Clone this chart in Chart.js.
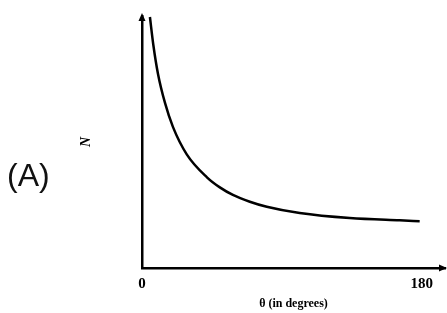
<!DOCTYPE html>
<html>
<head>
<meta charset="utf-8">
<script src="https://cdn.jsdelivr.net/npm/chart.js@4.4.0/dist/chart.umd.min.js"></script>
<style>
  html, body { margin: 0; padding: 0; background: #fff; }
  #wrap { position: relative; width: 447px; height: 313px; }
  #panel { position: absolute; left: 7px; top: 157px; font: 32px "Liberation Sans", Arial, sans-serif; color: #111; }
</style>
</head>
<body>
<div id="wrap">
  <canvas id="chart" width="447" height="313"></canvas>
  <div id="panel">(A)</div>
</div>
<script>
// curva leída a ojo de la figura (ángulo en grados, N en unidades arbitrarias)
const angulos = [5.1, 7.3, 10.3, 14.8, 19.9, 28.9, 41.8, 50.1, 58.5, 69.4, 80.3, 101.5, 133.7, 165.8, 178.7];
const valoresN = [99.6, 88.5, 77.0, 65.5, 56.0, 45.0, 36.0, 32.0, 29.0, 26.3, 24.3, 21.8, 19.8, 18.9, 18.6];
const ticksX = [0, 180];

const puntos = angulos.map((a, i) => ({ x: a, y: valoresN[i] }));

// flechas en los extremos de los ejes
const flechas = {
  id: 'flechas',
  afterDraw(chart) {
    const { ctx, chartArea: a } = chart;
    ctx.save();
    ctx.fillStyle = '#000';
    ctx.beginPath();
    ctx.moveTo(a.left, a.top - 3);
    ctx.lineTo(a.left - 3.5, a.top + 5);
    ctx.lineTo(a.left + 3.5, a.top + 5);
    ctx.closePath();
    ctx.fill();
    ctx.beginPath();
    ctx.moveTo(a.right + 2, a.bottom);
    ctx.lineTo(a.right - 6, a.bottom - 3.5);
    ctx.lineTo(a.right - 6, a.bottom + 3.5);
    ctx.closePath();
    ctx.fill();
    ctx.restore();
  }
};

new Chart(document.getElementById('chart'), {
  type: 'line',
  data: {
    datasets: [{
      data: puntos,
      borderColor: '#000',
      borderWidth: 2.5,
      pointRadius: 0,
      cubicInterpolationMode: 'monotone',
      fill: false,
      clip: false
    }]
  },
  options: {
    responsive: false,
    animation: false,
    layout: { padding: { left: 0, right: 2, top: 16, bottom: 0 } },
    plugins: { legend: { display: false }, tooltip: { enabled: false } },
    scales: {
      x: {
        type: 'linear',
        min: 0,
        max: 195,
        afterBuildTicks: s => { s.ticks = ticksX.map(v => ({ value: v })); },
        grid: { display: false, drawTicks: false },
        border: { display: true, color: '#000', width: 2.5 },
        ticks: {
          color: '#000',
          padding: 9,
          maxRotation: 0,
          autoSkip: false,
          font: { family: '"Liberation Serif", "DejaVu Serif", serif', size: 15, weight: 'bold', lineHeight: 1 }
        },
        title: {
          display: true,
          text: 'θ (in degrees)',
          color: '#000',
          padding: { top: -3, bottom: 3 },
          font: { family: '"Liberation Serif", "DejaVu Serif", serif', size: 12, weight: 'bold', lineHeight: 1 }
        }
      },
      y: {
        min: 0,
        max: 100,
        grid: { display: false, drawTicks: false },
        border: { display: true, color: '#000', width: 2.5 },
        ticks: { display: false },
        title: {
          display: true,
          text: 'N',
          color: '#000',
          padding: { top: 79, bottom: 49 },
          font: { family: '"Liberation Serif", "DejaVu Serif", serif', size: 14, weight: 'bold', style: 'italic', lineHeight: 1 }
        }
      }
    }
  },
  plugins: [flechas]
});
</script>
</body>
</html>
